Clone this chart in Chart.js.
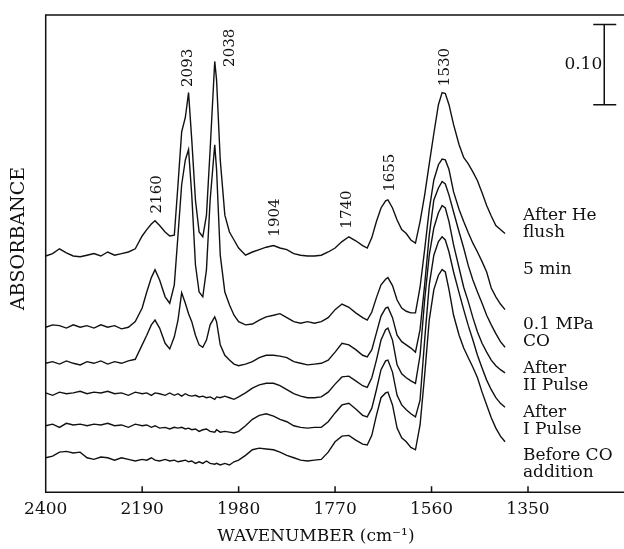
<!DOCTYPE html>
<html>
<head>
<meta charset="utf-8">
<script src="https://cdn.jsdelivr.net/npm/chart.js@4.4.1/dist/chart.umd.min.js"></script>
<style>
  html, body { margin: 0; padding: 0; background: #fff; }
  #wrap { width: 624px; height: 549px; position: relative; }
</style>
</head>
<body>
<div id="wrap"><canvas id="irChart"></canvas></div>
<script>
// wavenumber grid (cm-1), shared by all spectra
const wavenumbers = [2400, 2385, 2370, 2355, 2340, 2325, 2310, 2295, 2280, 2265, 2250, 2235, 2220, 2205,
    2190, 2180, 2170, 2162, 2152, 2140, 2130, 2120,
    2112, 2104, 2096, 2089, 2082, 2074, 2066, 2058, 2050, 2042, 2032, 2028, 2020, 2010, 2000, 1990, 1980,
    1965, 1950, 1935, 1920, 1904, 1890, 1875, 1860, 1845, 1830, 1815, 1800, 1785, 1770, 1755, 1740, 1725, 1710, 1700,
    1690, 1680, 1670, 1660, 1655, 1645, 1635, 1625, 1615, 1605, 1595, 1585, 1575, 1565, 1555, 1545, 1537, 1530, 1522, 1512, 1500,
    1490, 1480, 1470, 1460, 1450, 1440, 1430, 1420, 1410, 1400];

// absorbance x 1000, stacked (offsets included)
const afterHeFlush = [295, 298, 304, 299, 295, 294, 296, 298, 295, 300, 296, 298, 300, 304,
    320, 328, 335, 339, 333, 325, 320, 321,
    384, 450, 468, 499, 440, 365, 325, 319, 346, 428, 538, 515, 415, 346, 325, 315, 305,
    296, 300, 303, 306, 308, 305, 303, 298, 296, 295, 295, 296, 300, 305, 313, 319, 314, 308, 305,
    318, 338, 355, 364, 365, 355, 340, 328, 323, 315, 311, 338, 371, 410, 448, 484, 499, 498, 484, 459, 434,
    418, 410, 400, 389, 374, 358, 345, 333, 328, 323];

const fiveMin = [206, 209, 208, 205, 209, 206, 208, 205, 209, 206, 208, 204, 206, 213,
    230, 250, 268, 278, 265, 244, 236, 259,
    321, 384, 415, 428, 371, 284, 250, 244, 278, 365, 434, 403, 296, 250, 234, 221, 213,
    209, 210, 215, 219, 221, 223, 218, 213, 211, 213, 211, 213, 218, 228, 235, 231, 224, 218, 215,
    225, 243, 259, 266, 268, 258, 240, 230, 226, 224, 224, 256, 303, 353, 390, 409, 416, 415, 403, 375, 353,
    338, 324, 311, 300, 288, 275, 255, 244, 235, 228];

const mpaCO = [161, 163, 160, 164, 161, 159, 163, 161, 164, 160, 163, 161, 164, 166,
    184, 196, 209, 215, 205, 186, 179, 194,
    215, 249, 236, 223, 213, 196, 184, 181, 190, 209, 219, 213, 184, 171, 165, 160, 158,
    160, 163, 168, 171, 171, 170, 168, 163, 161, 159, 160, 161, 165, 175, 186, 184, 178, 171, 169,
    178, 199, 220, 230, 231, 218, 196, 188, 184, 180, 175, 203, 259, 321, 365, 380, 388, 385, 371, 350, 325,
    305, 283, 265, 250, 236, 221, 209, 198, 188, 181];

const afterPulse2 = [124, 121, 125, 123, 124, 126, 123, 125, 124, 126, 123, 124, 121, 125,
    123, 124, 121, 124, 123, 121, 124, 121,
    123, 120, 123, 121, 120, 121, 119, 120, 118, 119, 116, 119, 118, 120, 118, 116, 119,
    124, 130, 134, 136, 136, 133, 128, 123, 120, 118, 118, 119, 125, 135, 144, 145, 139, 133, 131,
    143, 165, 190, 203, 205, 190, 159, 148, 143, 139, 136, 171, 240, 296, 330, 349, 358, 355, 338, 309, 280,
    256, 238, 218, 200, 186, 175, 165, 158, 153, 149];

const afterPulse1 = [83, 85, 81, 86, 84, 85, 83, 85, 84, 86, 83, 84, 81, 85,
    83, 84, 81, 83, 80, 81, 79, 81,
    80, 81, 79, 80, 78, 79, 76, 78, 79, 76, 75, 78, 75, 76, 75, 74, 76,
    83, 91, 96, 98, 95, 91, 88, 83, 81, 80, 81, 81, 88, 99, 109, 111, 104, 96, 94,
    105, 128, 153, 164, 165, 150, 121, 109, 103, 98, 94, 115, 190, 259, 296, 313, 319, 315, 300, 275, 249,
    228, 208, 190, 171, 155, 140, 128, 118, 111, 106];

const beforeCO = [43, 45, 50, 51, 49, 50, 43, 41, 44, 43, 40, 43, 41, 39,
    41, 40, 43, 40, 39, 41, 39, 40,
    38, 39, 40, 38, 39, 36, 38, 36, 39, 36, 35, 36, 34, 36, 34, 38, 40,
    46, 53, 55, 54, 53, 50, 46, 43, 40, 39, 40, 41, 50, 63, 70, 71, 65, 60, 59,
    71, 96, 118, 124, 125, 109, 80, 68, 63, 56, 53, 84, 146, 215, 253, 271, 278, 275, 253, 221, 196,
    180, 168, 156, 143, 125, 109, 93, 80, 70, 63];

const seriesValues = [afterHeFlush, fiveMin, mpaCO, afterPulse2, afterPulse1, beforeCO];
const seriesNames = [['After He', 'flush'], ['5 min'], ['0.1 MPa', 'CO'], ['After', 'II Pulse'], ['After', 'I Pulse'], ['Before CO', 'addition']];
const seriesNameLevel = [346, 278, 209, 155, 99, 46];
const seriesNameWn = 1361;

const tickValues = [2400, 2190, 1980, 1770, 1560, 1350];

const peakLabels = ['2160', '2093', '2038', '1904', '1740', '1655', '1530'];
const peakLabelWn = [2158, 2090, 1999, 1901, 1744, 1650, 1531];
const peakLabelLevel = [372, 530, 555, 343, 353, 399, 531];

// 0.10 absorbance scale bar
const scaleBarWn = 1184;
const scaleBarRange = [484, 584];

const ink = '#111';
Chart.defaults.font.family = "'DejaVu Serif', serif";
Chart.defaults.color = ink;

const annotate = {
    id: 'annotate',
    afterDraw(chart) {
        const {ctx, chartArea: a, scales: {x, y}} = chart;
        ctx.save();
        ctx.strokeStyle = ink;
        ctx.fillStyle = ink;
        ctx.lineWidth = 1.5;

        // frame (right side runs off the picture)
        ctx.beginPath();
        ctx.moveTo(a.right, a.top);
        ctx.lineTo(a.left, a.top);
        ctx.lineTo(a.left, a.bottom);
        ctx.lineTo(a.right, a.bottom);
        // inward tick marks
        x.ticks.forEach(t => {
            const px = x.getPixelForValue(t.value);
            ctx.moveTo(px, a.bottom);
            ctx.lineTo(px, a.bottom - 6);
        });
        ctx.stroke();

        // scale bar
        const bx = x.getPixelForValue(scaleBarWn);
        const b0 = y.getPixelForValue(scaleBarRange[0]);
        const b1 = y.getPixelForValue(scaleBarRange[1]);
        ctx.beginPath();
        ctx.moveTo(bx, b0); ctx.lineTo(bx, b1);
        ctx.moveTo(bx - 11, b0); ctx.lineTo(bx + 12, b0);
        ctx.moveTo(bx - 11, b1); ctx.lineTo(bx + 12, b1);
        ctx.stroke();
        ctx.font = "17px 'DejaVu Serif'";
        ctx.textAlign = 'right';
        ctx.textBaseline = 'middle';
        ctx.fillText('0.10', bx - 2, (b0 + b1) / 2);

        // peak positions, rotated
        ctx.font = "15px 'DejaVu Serif'";
        ctx.textAlign = 'center';
        peakLabels.forEach((txt, i) => {
            ctx.save();
            ctx.translate(x.getPixelForValue(peakLabelWn[i]), y.getPixelForValue(peakLabelLevel[i]));
            ctx.rotate(-Math.PI / 2);
            ctx.fillText(txt, 0, 0);
            ctx.restore();
        });

        // spectrum names
        ctx.font = "17px 'DejaVu Serif'";
        ctx.textAlign = 'left';
        seriesNames.forEach((lines, i) => {
            const px = x.getPixelForValue(seriesNameWn);
            const py = y.getPixelForValue(seriesNameLevel[i]);
            lines.forEach((ln, j) => ctx.fillText(ln, px, py + j * 17));
        });
        ctx.restore();
    }
};

const datasets = seriesValues.map((vals, i) => ({
    label: seriesNames[i].join(' '),
    data: vals.map((v, k) => ({x: wavenumbers[k], y: v})),
    borderColor: ink,
    borderWidth: 1.4,
    pointRadius: 0,
    fill: false,
    tension: 0
}));

const ctx = document.getElementById('irChart').getContext('2d');
new Chart(ctx, {
    type: 'line',
    data: {datasets: datasets},
    options: {
        responsive: true,
        maintainAspectRatio: false,
        animation: false,
        layout: {padding: {top: 15, right: 0, bottom: 0, left: 0}},
        plugins: {legend: {display: false}, tooltip: {enabled: false}},
        scales: {
            x: {
                type: 'linear',
                reverse: true,
                min: 1141,
                max: 2400,
                afterBuildTicks: scale => { scale.ticks = tickValues.map(v => ({value: v})); },
                grid: {display: false, drawTicks: false},
                border: {display: false},
                ticks: {
                    autoSkip: false,
                    maxRotation: 0,
                    padding: 7,
                    font: {size: 17},
                    callback: v => String(v)
                },
                title: {
                    display: true,
                    text: 'WAVENUMBER (cm\u207B\u00B9)' + '\u00a0'.repeat(7),
                    font: {size: 17},
                    padding: {top: 0, bottom: 2}
                }
            },
            y: {
                min: 0,
                max: 596,
                grid: {display: false, drawTicks: false},
                border: {display: false},
                ticks: {display: false},
                title: {
                    display: true,
                    text: '\u00a0'.repeat(5) + 'ABSORBANCE',
                    font: {size: 19},
                    padding: {top: 7.6, bottom: 15.3}
                }
            }
        }
    },
    plugins: [annotate]
});
</script>
</body>
</html>
